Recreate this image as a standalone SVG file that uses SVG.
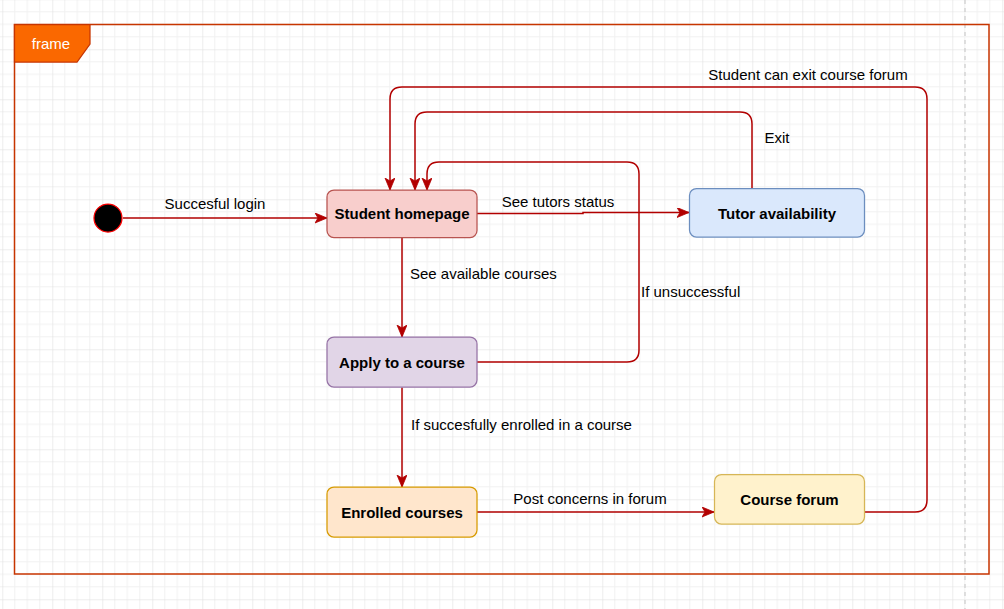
<svg xmlns="http://www.w3.org/2000/svg" width="1004" height="609" viewBox="0 0 1004 609">
  <style>
    .node { stroke-width: 1.25; }
    .ntext { font-family: "Liberation Sans", Arial, sans-serif; font-size: 15px; font-weight: bold; fill: #000000; text-anchor: middle; }
    .elabel { font-family: "Liberation Sans", Arial, sans-serif; font-size: 15px; fill: #000000; }
    .edge { fill: none; stroke: #b20000; stroke-width: 1.5; marker-end: url(#arrow); }
  </style>
  <defs>
    <pattern id="grid" patternUnits="userSpaceOnUse" x="2.3" y="-0.7" width="50" height="50">
      <path d="M12.5,0 V50 M25,0 V50 M37.5,0 V50 M0,12.5 H50 M0,25 H50 M0,37.5 H50" stroke="#f1f1f1" stroke-width="1" fill="none"/>
      <path d="M0,0 V50 M0,0 H50" stroke="#dcdcdc" stroke-width="1" fill="none"/>
    </pattern>
    <marker id="arrow" markerUnits="userSpaceOnUse" markerWidth="13" markerHeight="11" refX="12" refY="5" orient="auto" viewBox="0 0 13 11">
      <path d="M0,0 L12,5 L0,10 L3,5 Z" fill="#b20000" stroke="#b20000" stroke-width="0.8"/>
    </marker>
  </defs>

  <rect x="0" y="0" width="1004" height="609" fill="#ffffff"/>
  <rect x="0" y="0" width="1004" height="609" fill="url(#grid)"/>
  <line x1="965" y1="0" x2="965" y2="609" stroke="#c4c4c4" stroke-width="1" stroke-dasharray="4 4"/>

  <g id="frame">
    <rect x="14.5" y="24.5" width="974.5" height="549.5" fill="none" stroke="#c73500" stroke-width="1.5"/>
    <path d="M14.5,24.5 H90 V44 L77,62 H14.5 Z" fill="#fa6800" stroke="#c73500" stroke-width="1.25"/>
    <text x="51" y="48.5" font-family="'Liberation Sans', Arial, sans-serif" font-size="15" fill="#ffffff" text-anchor="middle">frame</text>
  </g>

  <g id="connectors">
    <path class="edge" d="M123,218 H327"/>
    <path class="edge" d="M477,213.5 H583 V212.5 H689"/>
    <path class="edge" d="M402,237.5 V337"/>
    <path class="edge" d="M402,387.5 V487"/>
    <path class="edge" d="M477,362 H627 Q639,362 639,350 V174 Q639,162 627,162 H439 Q427,162 427,174 V190"/>
    <path class="edge" d="M752,188 V124 Q752,112 740,112 H427 Q415,112 415,124 V190"/>
    <path class="edge" d="M477,512 H714"/>
    <path class="edge" d="M865,512 H915 Q927,512 927,500 V99 Q927,87 915,87 H402 Q390,87 390,99 V190"/>
    <text class="elabel" x="215" y="209" text-anchor="middle">Succesful login</text>
    <text class="elabel" x="558" y="207" text-anchor="middle">See tutors status</text>
    <text class="elabel" x="410" y="279">See available courses</text>
    <text class="elabel" x="641" y="297">If unsuccessful</text>
    <text class="elabel" x="411" y="430">If succesfully enrolled in a course</text>
    <text class="elabel" x="590" y="504" text-anchor="middle">Post concerns in forum</text>
    <text class="elabel" x="777" y="143" text-anchor="middle">Exit</text>
    <text class="elabel" x="808" y="80" text-anchor="middle">Student can exit course forum</text>
  </g>

  <g id="initial">
    <circle cx="108" cy="218" r="14" fill="#000000" stroke="#ff0000" stroke-width="1.25"/>
  </g>

  <g id="student-homepage">
    <rect class="node" x="327" y="190" width="150" height="47.5" rx="7" fill="#f8cecc" stroke="#b85450"/>
    <text class="ntext" x="402" y="219">Student homepage</text>
  </g>

  <g id="tutor-availability">
    <rect class="node" x="689.5" y="188.5" width="175" height="48.5" rx="7" fill="#dae8fc" stroke="#6c8ebf"/>
    <text class="ntext" x="777" y="218.5">Tutor availability</text>
  </g>

  <g id="apply-course">
    <rect class="node" x="327" y="337" width="150" height="50" rx="7" fill="#e1d5e7" stroke="#9673a6"/>
    <text class="ntext" x="402" y="367.5">Apply to a course</text>
  </g>

  <g id="enrolled-courses">
    <rect class="node" x="327" y="487" width="150" height="50" rx="7" fill="#ffe6cc" stroke="#d79b00"/>
    <text class="ntext" x="402" y="517.5">Enrolled courses</text>
  </g>

  <g id="course-forum">
    <rect class="node" x="714.5" y="474.5" width="150" height="49.5" rx="7" fill="#fff2cc" stroke="#d6b656"/>
    <text class="ntext" x="789.5" y="504.5">Course forum</text>
  </g>
</svg>
